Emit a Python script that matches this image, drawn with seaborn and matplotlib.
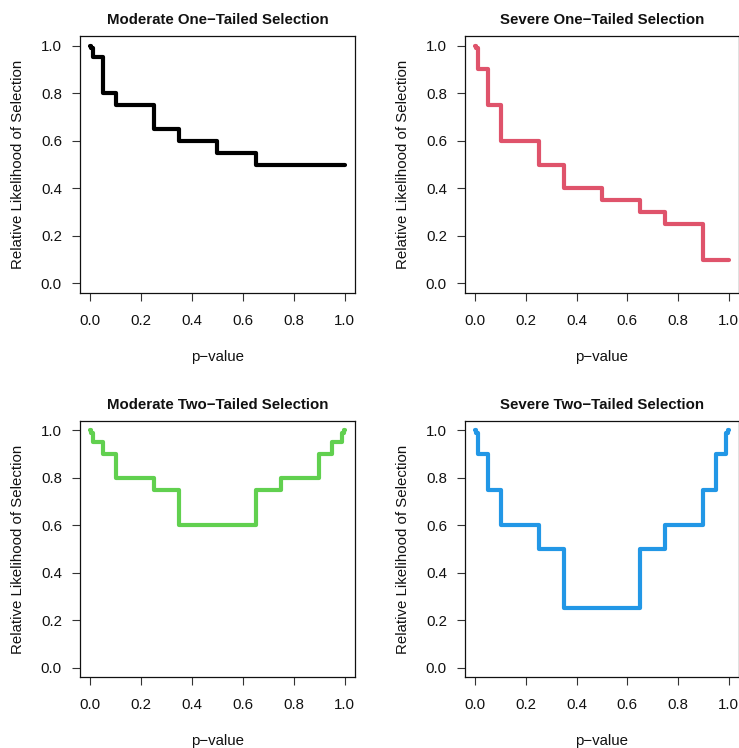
import matplotlib
matplotlib.use("Agg")
import matplotlib.pyplot as plt
import numpy as np
import pandas as pd
import seaborn as sns

# Right-hand p-value cutpoints of the selection intervals (first interval starts at 0)
cutpoints = [0.005, 0.01, 0.05, 0.10, 0.25, 0.35, 0.50, 0.65, 0.75, 0.90, 0.95, 0.99, 0.995, 1.00]

# Relative selection weights for each interval
moderate_one = [1.00, 0.99, 0.95, 0.80, 0.75, 0.65, 0.60, 0.55, 0.50, 0.50, 0.50, 0.50, 0.50, 0.50]
severe_one = [1.00, 0.99, 0.90, 0.75, 0.60, 0.50, 0.40, 0.35, 0.30, 0.25, 0.10, 0.10, 0.10, 0.10]
moderate_two = [1.00, 0.99, 0.95, 0.90, 0.80, 0.75, 0.60, 0.60, 0.75, 0.80, 0.90, 0.95, 0.99, 1.00]
severe_two = [1.00, 0.99, 0.90, 0.75, 0.60, 0.50, 0.25, 0.25, 0.50, 0.60, 0.75, 0.90, 0.99, 1.00]

titles = ["Moderate One\u2212Tailed Selection", "Severe One\u2212Tailed Selection",
          "Moderate Two\u2212Tailed Selection", "Severe Two\u2212Tailed Selection"]
colors = ["#000000", "#DF536B", "#61D04F", "#2297E6"]
tick_values = [0.0, 0.2, 0.4, 0.6, 0.8, 1.0]
tick_labels = ["0.0", "0.2", "0.4", "0.6", "0.8", "1.0"]

sns.set_theme(style="ticks")
plt.rcParams["font.family"] = ["Liberation Sans", "DejaVu Sans"]


def step_frame(cuts, weights):
    """Vertices of a step function: each weight holds over its p-value interval."""
    xs, ys = [], []
    left = 0.0
    for right, w in zip(cuts, weights):
        xs += [left, right]
        ys += [w, w]
        left = right
    return pd.DataFrame({"p": xs, "w": ys})


W, H = 739, 748
fig = plt.figure(figsize=(W / 100, H / 100), dpi=100)

# panel boxes in pixels: (left, top, right, bottom)
boxes = [(80, 36, 355, 293), (465, 36, 739, 293),
         (80, 421, 355, 677), (465, 421, 739, 677)]
series = [moderate_one, severe_one, moderate_two, severe_two]

for (l, t, r, b), wts, title, col in zip(boxes, series, titles, colors):
    ax = fig.add_axes([l / W, 1 - b / H, (r - l) / W, (b - t) / H])
    df = step_frame(cutpoints, wts)
    sns.lineplot(data=df, x="p", y="w", sort=False, estimator=None, ax=ax,
                 color=col, linewidth=3.0, solid_capstyle="round",
                 solid_joinstyle="round")
    ax.set_xlim(-0.04, 1.04)
    ax.set_ylim(-0.04, 1.04)
    ax.set_xticks(tick_values)
    ax.set_xticklabels(tick_labels)
    ax.set_yticks(tick_values)
    ax.set_yticklabels(tick_labels)
    ax.tick_params(axis="both", length=5.5, width=0.8, color="#333333",
                   labelsize=10.8, labelcolor="#111111")
    ax.tick_params(axis="x", pad=9.5)
    ax.tick_params(axis="y", pad=7.5)
    for s in ax.spines.values():
        s.set_linewidth(0.9)
        s.set_color("#111111")
    ax.set_title(title, fontsize=10.8, fontweight="bold", pad=8.5, color="#111111")
    ax.set_xlabel("p\u2212value", fontsize=10.8, color="#111111")
    ax.set_ylabel("Relative Likelihood of Selection", fontsize=10.8, color="#111111")
    ax.xaxis.label.set_va("center")
    ax.yaxis.label.set_va("center")
    ax.xaxis.set_label_coords(0.5, -64 / (b - t))
    ax.yaxis.set_label_coords(-62 / (r - l), 0.5)

fig.savefig("out.png", dpi=100, facecolor="white")
